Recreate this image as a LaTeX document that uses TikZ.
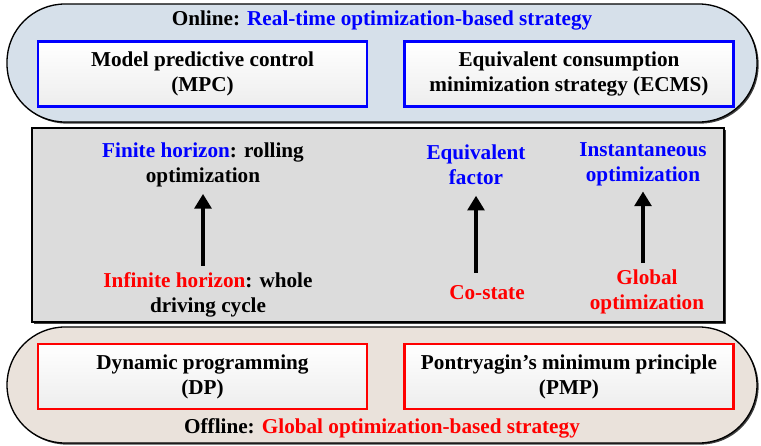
\documentclass[tikz,border=0pt]{standalone}
\usepackage{fontspec}
\setmainfont{Liberation Serif}
\usetikzlibrary{arrows.meta,shadows}
\definecolor{onlinefill}{RGB}{214,224,234}
\definecolor{offlinefill}{RGB}{234,226,219}
\definecolor{midfill}{RGB}{220,220,220}
\definecolor{tblue}{RGB}{0,0,255}
\definecolor{tred}{RGB}{255,0,0}
\tikzset{
  txt/.style={font=\fontsize{15.9}{18.75}\selectfont\bfseries, align=center, inner sep=0pt},
  pill/.style={draw=black, line width=1pt, rounded corners=58pt*0.75,
    drop shadow={shadow xshift=1.2pt, shadow yshift=-1.2pt, fill=black!75, opacity=1}},
  method/.style={txt, line width=1.7pt, minimum width=329*0.75pt, minimum height=65*0.75pt,
    top color=white, bottom color=black!7,
    drop shadow={shadow xshift=1pt, shadow yshift=-1pt, fill=black!30, opacity=1}},
  onbox/.style={method, draw=tblue},
  offbox/.style={method, draw=tred},
  arr/.style={line width=2.8pt, -{Triangle[width=12.5pt,length=11pt]}},
}
\begin{document}
\begin{tikzpicture}[x=0.75pt,y=-0.75pt]
\useasboundingbox (0,0) rectangle (761,446);
% online band
\path[pill, fill=onlinefill] (7,4) rectangle (757,122);
\node[txt] (ontitle) at (382,20) {Online: \textcolor{tblue}{Real-time optimization-based strategy}};
\node[onbox] (mpc) at (202.5,74) {Model predictive control\\(MPC)};
\node[onbox] (ecms) at (569,74) {Equivalent consumption\\minimization strategy (ECMS)};
% middle panel
\path[draw=black, line width=1pt, fill=midfill,
  drop shadow={shadow xshift=1.2pt, shadow yshift=-1.2pt, fill=black!75, opacity=1}]
  (32,128) rectangle (724,322);
\node[txt] (fin) at (203,164.5) {\textcolor{tblue}{Finite horizon}: rolling\\optimization};
\node[txt] (inf) at (208,294.5) {\textcolor{tred}{Infinite horizon}: whole\\driving cycle};
\node[txt, text=tblue] (eqf) at (476,164.5) {Equivalent\\factor};
\node[txt, text=tred] (cost) at (487,293) {Co-state};
\node[txt, text=tblue] (inst) at (643,164.5) {Instantaneous\\optimization};
\node[txt, text=tred] (glob) at (647,291.5) {Global\\optimization};
\draw[arr, shorten <=6*0.75pt, shorten >=7*0.75pt] (inf.north -| fin.south) -- (fin.south);
\draw[arr, shorten <=13*0.75pt, shorten >=11*0.75pt] (cost.north -| eqf.south) -- (eqf.south);
\draw[arr, shorten <=6*0.75pt, shorten >=5*0.75pt] (glob.north -| inst.south) -- (inst.south);
% offline band
\path[pill, fill=offlinefill] (7,327) rectangle (757,443);
\node[offbox] (dp) at (202.5,376.5) {Dynamic programming\\(DP)};
\node[offbox] (pmp) at (569,376.5) {Pontryagin’s minimum principle\\(PMP)};
\node[txt] (offtitle) at (382,428) {Offline: \textcolor{tred}{Global optimization-based strategy}};
\end{tikzpicture}
\end{document}
